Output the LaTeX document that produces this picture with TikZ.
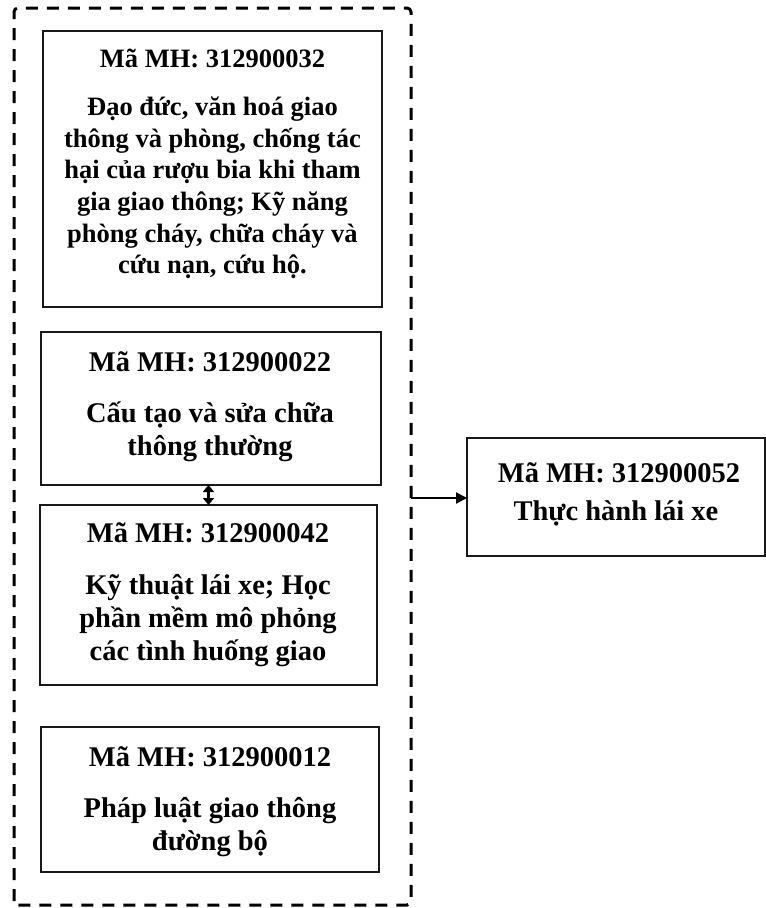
\documentclass[tikz,border=0pt]{standalone}
\usepackage{fontspec}
\setmainfont{Liberation Serif}
\usetikzlibrary{arrows.meta}
\tikzset{
  box/.style={draw=black!90, line width=2.3pt, inner sep=0pt, outer sep=0pt},
  ttl/.style={font=\bfseries\fontsize{28.5}{33}\selectfont, inner sep=0pt, align=center},
  bdy/.style={font=\bfseries\fontsize{28.5}{33}\selectfont, inner sep=0pt, align=center},
  ttlsmall/.style={font=\bfseries\fontsize{26.5}{31.6}\selectfont, inner sep=0pt, align=center},
  bdysmall/.style={font=\bfseries\fontsize{26.5}{31.6}\selectfont, inner sep=0pt, align=center},
  frame/.style={draw=black, line width=3pt, dash pattern=on 12pt off 9pt},
  conn/.style={draw=black, line width=2.2pt},
}
\begin{document}
\begin{tikzpicture}[x=1pt,y=-1pt]
\useasboundingbox (0,0) rectangle (766,908);
% dashed frame
\coordinate (fTL) at (14,8);
\coordinate (fTR) at (411,8);
\coordinate (fBR) at (411,905);
\coordinate (fBL) at (14,905);
\draw[frame, rounded corners=4pt] (fBL) -- (fTL) -- (fTR) -- (fBR) -- cycle;
% boxes
\node[box, minimum width=339pt, minimum height=276pt] (b1) at (212.5,169) {};
\node[box, minimum width=340pt, minimum height=153pt] (b2) at (211,408.5) {};
\node[box, minimum width=337pt, minimum height=180pt] (b3) at (208.5,595) {};
\node[box, minimum width=338pt, minimum height=145pt] (b4) at (210,799.5) {};
\node[box, minimum width=298pt, minimum height=118pt] (b5) at (616,497) {};
% texts
\node[ttlsmall] (t1) at (212.5,58) {Mã MH: 312900032};
\node[bdysmall] (d1) at (212.5,188) {Đạo đức, văn hoá giao\\thông và phòng, chống tác\\hại của rượu bia khi tham\\gia giao thông; Kỹ năng\\phòng cháy, chữa cháy và\\cứu nạn, cứu hộ.};
\node[ttl] (t2) at (210,362) {Mã MH: 312900022};
\node[bdy] (d2) at (210,432) {Cấu tạo và sửa chữa\\thông thường};
\node[ttl] (t3) at (208,533) {Mã MH: 312900042};
\node[bdy] (d3) at (208,621) {Kỹ thuật lái xe; Học\\phần mềm mô phỏng\\các tình huống giao};
\node[ttl] (t4) at (210,757) {Mã MH: 312900012};
\node[bdy] (d4) at (210,827) {Pháp luật giao thông\\đường bộ};
\node[ttl] (t5) at (619,473) {Mã MH: 312900052};
\node[bdy] (d5) at (616,513) {Thực hành lái xe};
% connectors
\coordinate (aS) at (411,498);
\draw[conn, -{Triangle[length=11pt,width=11pt]}] (aS) -- (aS -| b5.west);
\draw[conn, {Triangle[length=7pt,width=11pt]}-{Triangle[length=7pt,width=11pt]}] (b3.north) -- (b3.north |- b2.south);
\end{tikzpicture}
\end{document}
